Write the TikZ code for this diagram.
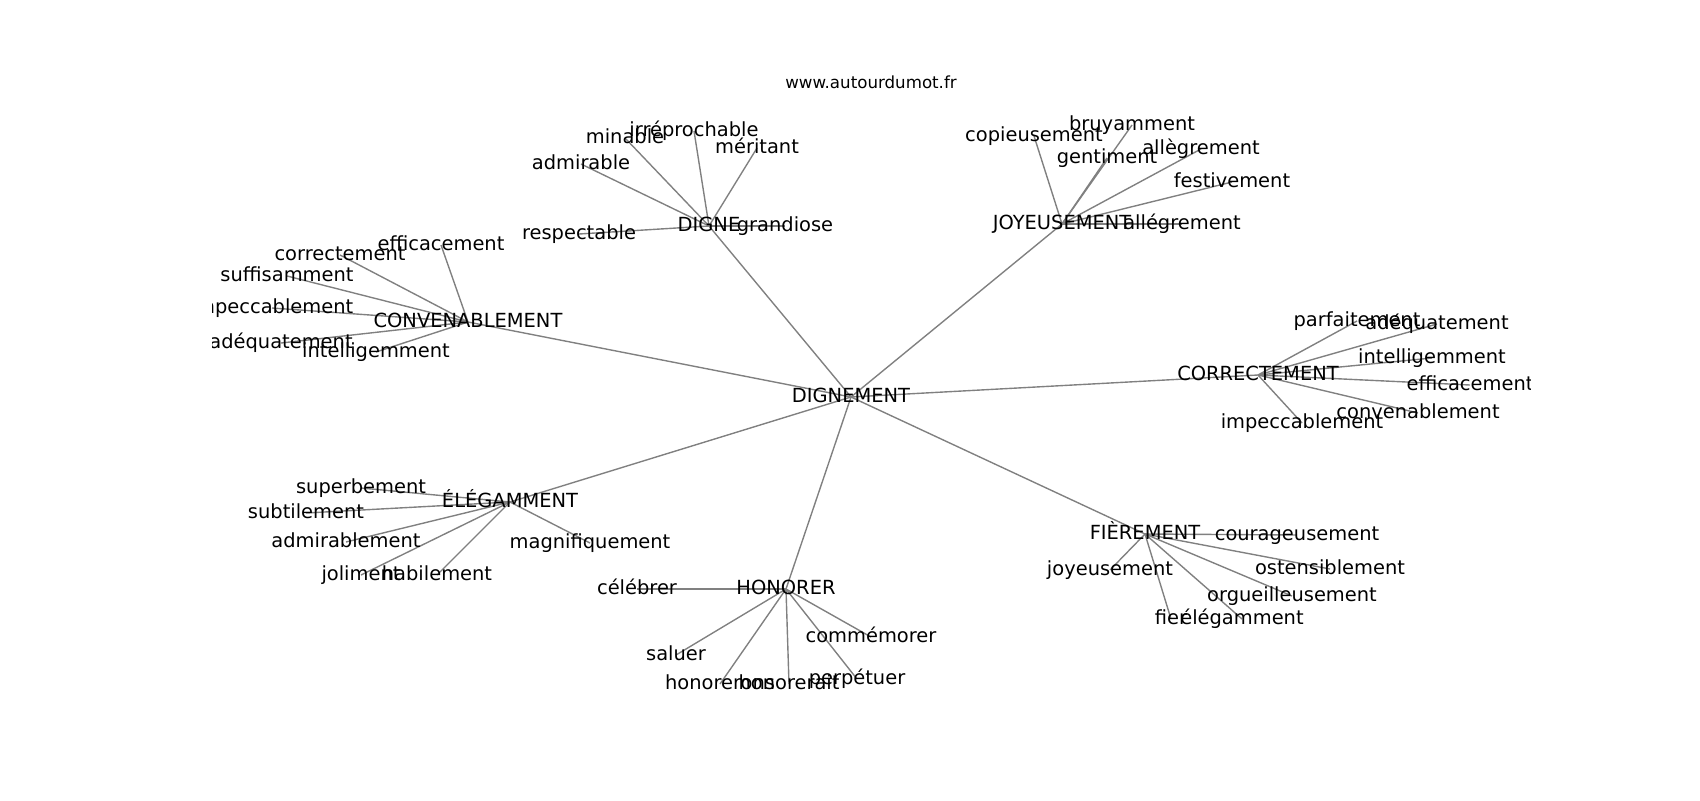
\documentclass[tikz,border=0pt]{standalone}
\usepackage{fontspec}
\setmainfont{DejaVu Sans}
\pgfdeclarelayer{bg}
\pgfsetlayers{bg,main}
\tikzset{
  lbl/.style={font=\fontsize{14}{16}\selectfont, inner sep=0pt, text height=0.96em, text depth=0.208em, anchor=center, text=black},
  ttl/.style={font=\fontsize{12}{14}\selectfont, inner sep=0pt, text height=0.96em, text depth=0.208em, anchor=center, text=black},
  edge/.style={draw=gray, line width=1pt}
}
\begin{document}
\begin{tikzpicture}[x=0.72pt,y=-0.72pt]
\useasboundingbox (0,0) rectangle (1700,800);
\node[ttl] (title) at (871,83) {www.autourdumot.fr};
\begin{scope}
\clip (212.5,96) rectangle (1530,712);
% hub
\node[lbl] (hub) at (851,397) {DIGNEMENT};
% DIGNE
\node[lbl] (digne) at (709,226) {DIGNE};
\node[lbl] (grandiose) at (785,226) {grandiose};
\node[lbl] (respectable) at (579,234) {respectable};
\node[lbl] (admirable) at (581,164) {admirable};
\node[lbl] (minable) at (625,138) {minable};
\node[lbl] (irr) at (694,131) {irréprochable};
\node[lbl] (meritant) at (757,148) {méritant};
% JOYEUSEMENT
\node[lbl] (joy) at (1062,224) {JOYEUSEMENT};
\node[lbl] (copieusement) at (1034,136) {copieusement};
\node[lbl] (bruyamment) at (1132,125) {bruyamment};
\node[lbl] (gentiment) at (1107,158) {gentiment};
\node[lbl] (allegA) at (1201,149) {allègrement};
\node[lbl] (festivement) at (1232,182) {festivement};
\node[lbl] (allegB) at (1182,224) {allégrement};
% CONVENABLEMENT
\node[lbl] (conv) at (468,322) {CONVENABLEMENT};
\node[lbl] (cv-eff) at (441,245) {efficacement};
\node[lbl] (cv-cor) at (340,255) {correctement};
\node[lbl] (cv-suf) at (287,276) {suffisamment};
\node[lbl] (cv-imp) at (272,308) {impeccablement};
\node[lbl] (cv-ade) at (281,343) {adéquatement};
\node[lbl] (cv-int) at (376,352) {intelligemment};
% CORRECTEMENT
\node[lbl] (corr) at (1258,375) {CORRECTEMENT};
\node[lbl] (cr-par) at (1357,321) {parfaitement};
\node[lbl] (cr-ade) at (1437,324) {adéquatement};
\node[lbl] (cr-int) at (1432,358) {intelligemment};
\node[lbl] (cr-eff) at (1470,385) {efficacement};
\node[lbl] (cr-con) at (1418,413) {convenablement};
\node[lbl] (cr-imp) at (1302,423) {impeccablement};
% ELEGAMMENT
\node[lbl] (eleg) at (510,502) {ÉLÉGAMMENT};
\node[lbl] (superbement) at (361,488) {superbement};
\node[lbl] (subtilement) at (306,513) {subtilement};
\node[lbl] (admirablement) at (346,542) {admirablement};
\node[lbl] (magnifiquement) at (590,543) {magnifiquement};
\node[lbl] (joliment) at (361,575) {joliment};
\node[lbl] (habilement) at (437,575) {habilement};
% HONORER
\node[lbl] (hon) at (786,589) {HONORER};
\node[lbl] (celebrer) at (637,589) {célébrer};
\node[lbl] (commemorer) at (871,637) {commémorer};
\node[lbl] (saluer) at (676,655) {saluer};
\node[lbl] (honorerons) at (720,684) {honorerons};
\node[lbl] (honorerait) at (789,684) {honorerait};
\node[lbl] (perpetuer) at (857,679) {perpétuer};
% FIEREMENT
\node[lbl] (fier-c) at (1145,534) {FIÈREMENT};
\node[lbl] (courageusement) at (1297,535) {courageusement};
\node[lbl] (joyeusement) at (1110,570) {joyeusement};
\node[lbl] (ostensiblement) at (1330,569) {ostensiblement};
\node[lbl] (orgueilleusement) at (1292,596) {orgueilleusement};
\node[lbl] (fier) at (1171,619) {fier};
\node[lbl] (elegamment) at (1242,619) {élégamment};
\end{scope}
\begin{pgfonlayer}{bg}
\foreach \c in {digne,joy,conv,corr,eleg,hon,fier-c}
  \draw[edge] (hub.center) -- (\c.center);
\foreach \l in {grandiose,respectable,admirable,minable,irr,meritant}
  \draw[edge] (digne.center) -- (\l.center);
\foreach \l in {copieusement,bruyamment,gentiment,allegA,festivement,allegB}
  \draw[edge] (joy.center) -- (\l.center);
\foreach \l in {cv-eff,cv-cor,cv-suf,cv-imp,cv-ade,cv-int}
  \draw[edge] (conv.center) -- (\l.center);
\foreach \l in {cr-par,cr-ade,cr-int,cr-eff,cr-con,cr-imp}
  \draw[edge] (corr.center) -- (\l.center);
\foreach \l in {superbement,subtilement,admirablement,magnifiquement,joliment,habilement}
  \draw[edge] (eleg.center) -- (\l.center);
\foreach \l in {celebrer,commemorer,saluer,honorerons,honorerait,perpetuer}
  \draw[edge] (hon.center) -- (\l.center);
\foreach \l in {courageusement,joyeusement,ostensiblement,orgueilleusement,fier,elegamment}
  \draw[edge] (fier-c.center) -- (\l.center);
\end{pgfonlayer}
\end{tikzpicture}
\end{document}
